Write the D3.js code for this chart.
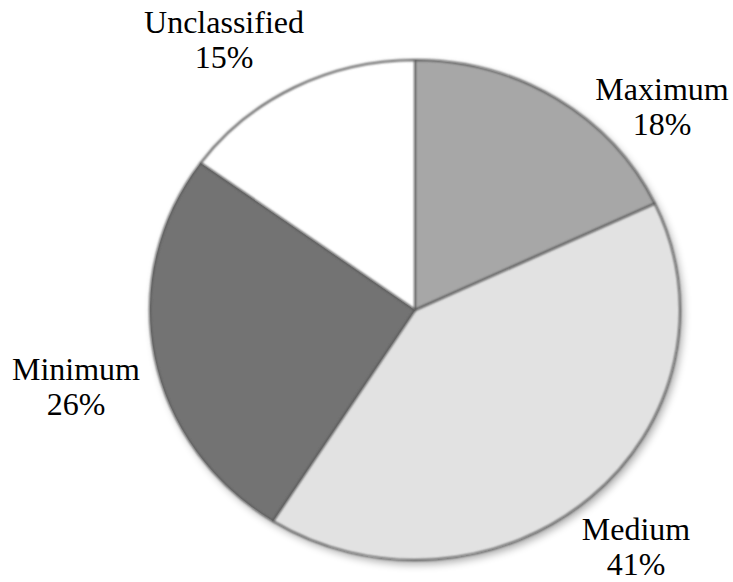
<!DOCTYPE html>
<html>
<head>
<meta charset="utf-8">
<script src="https://cdn.jsdelivr.net/npm/d3@7"></script>
<style>
  html, body { margin: 0; padding: 0; background: #fff; }
  svg { display: block; }
</style>
</head>
<body>
<svg id="chart" width="733" height="582"></svg>
<script>
const categories = ["Maximum", "Medium", "Minimum", "Unclassified"];
const values = [18, 41, 26, 15];
const percentLabels = ["18%", "41%", "26%", "15%"];
const colors = ["#a7a7a7", "#e2e2e2", "#737373", "#ffffff"];
const labelPos = [[662, 100], [636, 540], [76, 380], [224, 33]];

const svg = d3.select("#chart");
const cx = 415, cy = 310, ry = 250, rx = 265;

const defs = svg.append("defs");
const sh = defs.append("filter").attr("id", "shadow")
  .attr("x", "-10%").attr("y", "-10%").attr("width", "120%").attr("height", "120%");
sh.append("feGaussianBlur").attr("in", "SourceAlpha").attr("stdDeviation", 4).attr("result", "b");
sh.append("feOffset").attr("in", "b").attr("dx", 3).attr("dy", 4).attr("result", "o");
sh.append("feComponentTransfer").attr("in", "o").attr("result", "o2")
  .append("feFuncA").attr("type", "linear").attr("slope", 0.35);
const m = sh.append("feMerge");
m.append("feMergeNode").attr("in", "o2");
m.append("feMergeNode").attr("in", "SourceGraphic");

const soft = defs.append("filter").attr("id", "soft");
soft.append("feGaussianBlur").attr("stdDeviation", 0.9);

const pie = d3.pie().sort(null).value(d => d)
  .startAngle(0).endAngle(2 * Math.PI);
const arcs = pie(values);
const arc = d3.arc().innerRadius(0).outerRadius(ry);

const g = svg.append("g")
  .attr("transform", `translate(${cx},${cy}) scale(${rx / ry},1)`);

g.append("g").attr("filter", "url(#shadow)")
  .selectAll("path").data(arcs).join("path")
  .attr("d", arc)
  .attr("fill", (d, i) => colors[i]);

g.append("g").attr("filter", "url(#soft)")
  .selectAll("path").data(arcs).join("path")
  .attr("d", arc)
  .attr("fill", "none")
  .attr("stroke", "#5a5a5a")
  .attr("stroke-width", 2)
  .attr("vector-effect", "non-scaling-stroke");

const lines = [];
categories.forEach((c, i) => {
  lines.push({ text: c, x: labelPos[i][0], y: labelPos[i][1] });
  lines.push({ text: percentLabels[i], x: labelPos[i][0], y: labelPos[i][1] + 35 });
});

svg.append("g").selectAll("text").data(lines).join("text")
  .attr("x", d => d.x).attr("y", d => d.y)
  .attr("text-anchor", "middle")
  .attr("fill", "#000")
  .attr("font-family", "Liberation Serif")
  .attr("font-size", 32)
  .style("font-family", '"Liberation Serif", monospace')
  .text(d => d.text);
</script>
</body>
</html>
